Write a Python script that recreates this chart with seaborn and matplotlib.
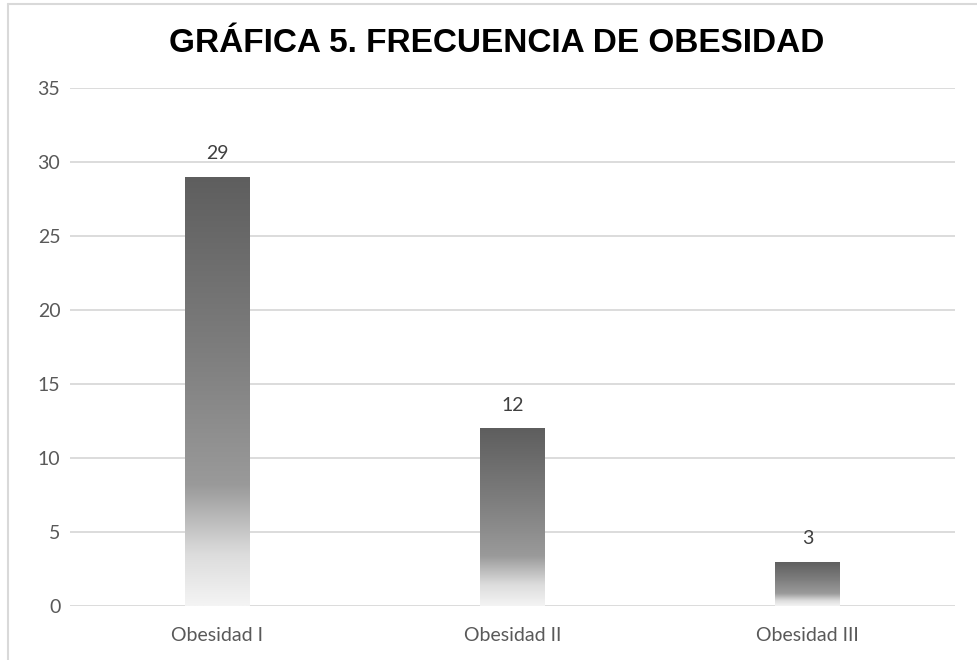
import numpy as np
import pandas as pd
import matplotlib

matplotlib.use("Agg")
import matplotlib.pyplot as plt
import seaborn as sns
from matplotlib.lines import Line2D
from matplotlib.colors import LinearSegmentedColormap

# datos de la gráfica
categorias = ["Obesidad I", "Obesidad II", "Obesidad III"]
frecuencias = [29, 12, 3]
titulo = "GRÁFICA 5. FRECUENCIA DE OBESIDAD"

df = pd.DataFrame({"categoria": categorias, "frecuencia": frecuencias})

sns.set_theme(style="white")
plt.rcParams["font.family"] = ["Lato", "DejaVu Sans"]

fig = plt.figure(figsize=(9.77, 6.6), dpi=100)
ax = fig.add_axes([70 / 977, 1 - 606 / 660, 885 / 977, (606 - 88) / 660])

sns.barplot(data=df, x="categoria", y="frecuencia", ax=ax, width=0.217,
            color="#666666", saturation=1, zorder=3)

# degradado: oscuro arriba, casi blanco abajo
grad_cmap = LinearSegmentedColormap.from_list(
    "grad", [(0.0, "#f4f4f4"), (0.12, "#dcdcdc"), (0.28, "#9a9a9a"),
             (0.6, "#7d7d7d"), (1.0, "#5e5e5e")])
grad = np.linspace(0, 1, 256).reshape(-1, 1)
for patch, val in zip(ax.patches, frecuencias):
    x0, w = patch.get_x(), patch.get_width()
    im = ax.imshow(grad, cmap=grad_cmap, aspect="auto", origin="lower",
                   extent=[x0, x0 + w, 0, val], zorder=4, interpolation="bilinear")
    im.set_clip_path(patch)
    patch.set_facecolor("none")
    patch.set_edgecolor("none")
    ax.text(x0 + w / 2, val + 1.0, str(val), ha="center", va="bottom",
            fontsize=14, color="#404040", zorder=5)

ax.set_xlim(-0.5, 2.5)
ax.set_ylim(0, 35)
ax.set_yticks(range(0, 36, 5))
ax.yaxis.grid(True, color="#d9d9d9", linewidth=1.3, zorder=0)
ax.set_axisbelow(True)
for s in ax.spines.values():
    s.set_visible(False)
ax.set_xlabel("")
ax.set_ylabel("")
ax.tick_params(axis="both", length=0, labelsize=14, labelcolor="#595959")
ax.tick_params(axis="y", pad=7)
ax.tick_params(axis="x", pad=15)

fig.text(497 / 977, 1 - 43 / 660, titulo, ha="center", va="center",
         fontsize=24, fontweight="bold", color="#000000",
         family=["Liberation Sans", "DejaVu Sans"])

# marco del gráfico (recortado a la derecha y abajo)
fig.add_artist(Line2D([8 / 977, 1], [1 - 4 / 660, 1 - 4 / 660], transform=fig.transFigure,
                      color="#d9d9d9", linewidth=1.5))
fig.add_artist(Line2D([8 / 977, 8 / 977], [0, 1 - 4 / 660], transform=fig.transFigure,
                      color="#d9d9d9", linewidth=1.5))

fig.savefig("out.png", dpi=100)
